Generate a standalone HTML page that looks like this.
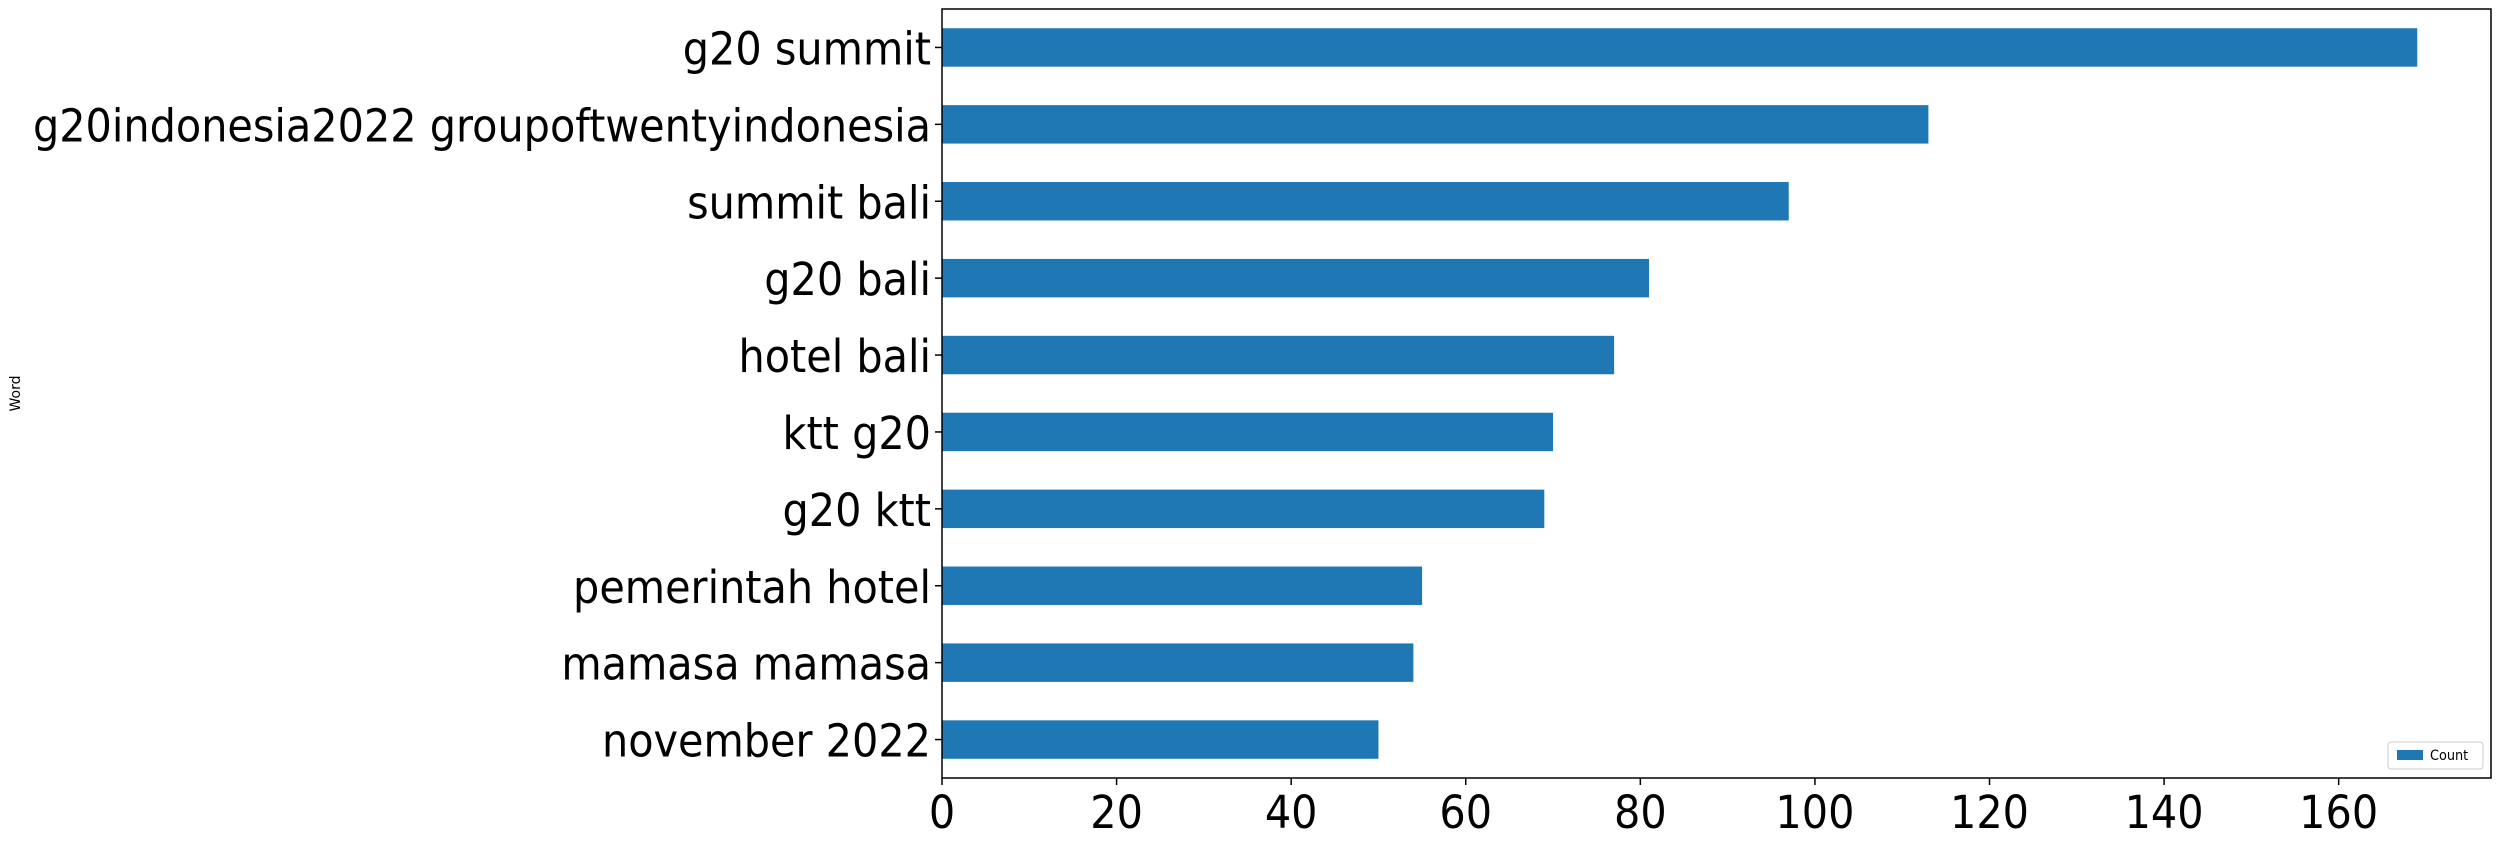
<!DOCTYPE html>
<html><head><meta charset="utf-8"><style>
html,body{margin:0;padding:0;background:#fff;}
svg{display:block;font-family:"DejaVu Sans","Liberation Sans",sans-serif;}
</style></head><body>
<svg id="chart" width="2501" height="841" viewBox="0 0 2501 841"></svg>
<script>
const categories=["g20 summit","g20indonesia2022 groupoftwentyindonesia","summit bali","g20 bali","hotel bali","ktt g20","g20 ktt","pemerintah hotel","mamasa mamasa","november 2022"];
const counts=[169,113,97,81,77,70,69,55,54,50];
const xTicks=[0,20,40,60,80,100,120,140,160];
const seriesName="Count";
const xMax=177.45;
const L=942,R=2491,T=9,B=778;
const SX=0.92;
const NS="http://www.w3.org/2000/svg";
const svg=document.getElementById('chart');
function xs(v){return L+(v/xMax)*(R-L);}
function yc(i){const step=(B-T)/categories.length;return T+step*(i+0.5);}
function mk(tag,attrs,parent){const e=document.createElementNS(NS,tag);for(const k in attrs)e.setAttribute(k,attrs[k]);(parent||svg).appendChild(e);return e;}
const step=(B-T)/categories.length;
categories.forEach((c,i)=>{
  const b=mk('rect',{x:xs(0),y:yc(i)-step*0.25,width:xs(counts[i])-xs(0),height:step*0.5,fill:'#1f77b4'});
  
  
  const t=mk('line',{x1:L-7,x2:L,y1:yc(i),y2:yc(i),stroke:'#000','stroke-width':1.5});
  
  
  const lb=mk('text',{x:0,y:0,transform:'translate('+(L-11)+','+(yc(i)+17)+') scale('+SX+',1)','text-anchor':'end','font-size':45,fill:'#000'});
  lb.textContent=c;
  
  
});
xTicks.forEach(v=>{
  const t=mk('line',{x1:xs(v),x2:xs(v),y1:B,y2:B+7,stroke:'#000','stroke-width':1.5});
  
  
  const lb=mk('text',{x:0,y:0,transform:'translate('+xs(v)+','+(B+50)+') scale('+SX+',1)','text-anchor':'middle','font-size':45,fill:'#000'});
  lb.textContent=v;
  
  
});
const frame=mk('rect',{x:L,y:T,width:R-L,height:B-T,fill:'none',stroke:'#000','stroke-width':1.5});


const yt=mk('text',{x:0,y:0,transform:'translate(20,'+((T+B)/2)+') rotate(-90)','text-anchor':'middle','font-size':14,fill:'#000'});
yt.textContent='Word';


const lg=mk('g',{});


mk('rect',{x:2388,y:742,width:95,height:27,rx:3,fill:'#fff',stroke:'#ccc','stroke-width':1},lg);
const sw=mk('rect',{x:2397,y:750,width:26,height:10,fill:'#1f77b4'},lg);


const lt=mk('text',{x:0,y:0,transform:'translate(2430,760) scale('+SX+',1)','font-size':14,fill:'#000'},lg);
lt.textContent=seriesName;


</script>
</body></html>
